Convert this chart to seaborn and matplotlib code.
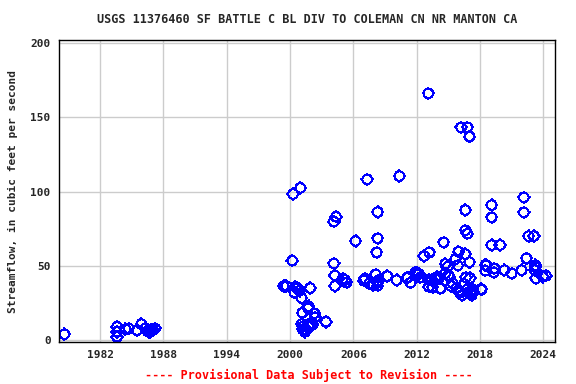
import numpy as np
import pandas as pd
import seaborn as sns
import matplotlib
matplotlib.use("Agg")
import matplotlib.pyplot as plt
from matplotlib.path import Path

# decimal year of each field measurement and streamflow (cfs)
years = [
    1978.6,
    1983.6, 1983.6, 1983.6, 1984.4, 1984.7, 1985.5, 1985.9, 1986.3, 1986.5,
    1986.6, 1986.7, 1986.8, 1986.9, 1987.0, 1987.2,
    1999.4, 1999.65, 2000.2, 2000.28, 2000.4, 2000.5, 2000.7, 2000.9, 2000.97,
    2001.1, 2001.1, 2001.15, 2001.2, 2001.25, 2001.4, 2001.5, 2001.7, 2001.75,
    2001.75, 2001.9, 2001.9, 2002.06, 2002.15, 2002.3, 2002.4, 2003.4,
    2004.15, 2004.15, 2004.25, 2004.25, 2004.35, 2005.0, 2005.2, 2005.35,
    2006.2, 2007.0, 2007.1, 2007.3, 2007.5, 2007.9, 2008.1, 2008.2, 2008.3,
    2008.3, 2008.3, 2008.3, 2008.35, 2009.2, 2010.1, 2010.35,
    2011.1, 2011.1, 2011.4, 2011.85, 2012.05, 2012.2, 2012.35, 2012.7,
    2013.1, 2013.15, 2013.2, 2013.15, 2013.45, 2013.5, 2013.8, 2013.95,
    2014.1, 2014.25, 2014.55, 2014.7, 2014.7, 2014.95, 2015.0, 2015.1,
    2015.25, 2015.4, 2015.65, 2015.75, 2015.9, 2015.95, 2016.0, 2016.1,
    2016.2, 2016.3, 2016.5, 2016.6, 2016.6, 2016.6, 2016.65, 2016.8, 2016.8,
    2016.8, 2017.0, 2017.0, 2017.05, 2017.1, 2017.2, 2017.3, 2017.35,
    2018.1, 2018.15, 2018.5, 2018.5, 2018.6,
    2019.1, 2019.1, 2019.1, 2019.35, 2019.3, 2019.9, 2020.3, 2021.0, 2021.95,
    2022.15, 2022.15, 2022.4, 2022.6, 2023.1, 2023.25, 2023.25, 2023.2,
    2023.3, 2023.95, 2024.25,
]
flows = [
    4.0,
    9.0, 5.6, 2.2, 7.4, 7.9, 6.7, 10.8, 7.9, 6.0,
    5.6, 5.5, 6.7, 6.5, 7.0, 7.9,
    36.4, 36.4, 53.4, 98.3, 32.1, 35.9, 34.8, 33.2, 102.4,
    28.3, 10.8, 18.4, 7.2, 9.4, 5.6, 6.7, 21.5, 22.9,
    9.0, 35.0, 11.2, 10.1, 10.8, 18.0, 15.3, 12.3,
    79.7, 51.6, 43.5, 36.4, 83.0, 41.3, 40.4, 38.8,
    66.7, 40.0, 41.5, 108.2, 38.2, 37.0, 44.2, 59.0, 86.2,
    68.5, 38.6, 36.6, 40.0, 43.1, 40.4, 110.4,
    41.8, 42.2, 38.6, 45.6, 45.3, 44.4, 42.2, 56.6,
    166.0, 40.8, 59.0, 35.9, 40.4, 35.5, 41.3, 42.6,
    41.7, 34.8, 65.8, 51.2, 44.9, 49.4, 43.8, 42.6,
    36.4, 38.2, 54.5, 34.8, 50.3, 59.5, 33.2, 31.9,
    143.2, 30.3, 37.7, 87.5, 73.9, 57.9, 42.2, 143.2, 71.6,
    34.1, 137.0, 52.5, 41.7, 32.5, 30.3, 34.1, 32.5,
    34.3, 34.1, 50.5, 46.7, 50.5,
    90.9, 82.6, 64.0, 48.3, 45.6, 64.0, 47.1, 44.9, 47.1,
    96.1, 86.0, 55.0, 70.0, 70.0, 50.5, 49.0, 47.1,
    41.5, 42.6, 43.3,
]
x_ticks = [1982, 1988, 1994, 2000, 2006, 2012, 2018, 2024]
y_ticks = [0, 50, 100, 150, 200]

df = pd.DataFrame({"year": years, "flow": flows})

# open circle with four short tick stubs, like the USGS plot symbol
theta = np.linspace(0, 2 * np.pi, 33)
ring = [(np.cos(t), np.sin(t)) for t in theta]
verts = ring + [(0, 1), (0, 1.3), (0, -1), (0, -1.3),
                (1, 0), (1.3, 0), (-1, 0), (-1.3, 0)]
codes = [Path.MOVETO] + [Path.LINETO] * (len(ring) - 1) + [Path.MOVETO, Path.LINETO] * 4
usgs_marker = Path(verts, codes)

sns.set_style("white")
plt.rcParams["font.family"] = ["DejaVu Sans Mono", "DejaVu Sans"]
plt.rcParams["font.weight"] = "bold"

fig = plt.figure(figsize=(5.76, 3.84), dpi=100)
ax = fig.add_axes([0.1024, 0.109, 0.8611, 0.787])

ax.set_axisbelow(True)
ax.grid(True, color="#cccccc", linewidth=1.0)

sns.scatterplot(
    data=df, x="year", y="flow", ax=ax, marker=usgs_marker, s=80,
    facecolors="none", edgecolor="#0000ff", linewidth=0.75, legend=False,
    antialiased=False,
)

ax.set_xlim(1978.1, 2025.1)
ax.set_ylim(-1.35, 202)
ax.set_xticks(x_ticks)
ax.set_yticks(y_ticks)
ax.tick_params(length=0, labelsize=8, pad=6)
for lab in ax.get_xticklabels() + ax.get_yticklabels():
    lab.set_fontweight("bold")

for sp in ax.spines.values():
    sp.set_color("black")
    sp.set_linewidth(1.0)
    sp.set_visible(True)

ax.set_xlabel("")
ax.set_ylabel("Streamflow, in cubic feet per second", fontsize=8,
              fontweight="bold", labelpad=9)
ax.set_title("USGS 11376460 SF BATTLE C BL DIV TO COLEMAN CN NR MANTON CA",
             fontsize=8.5, fontweight="bold", pad=12)

fig.text(0.537, 0.012, "---- Provisional Data Subject to Revision ----",
         color="red", fontsize=8.5, fontweight="bold", ha="center")

fig.savefig("out.png", dpi=100)
